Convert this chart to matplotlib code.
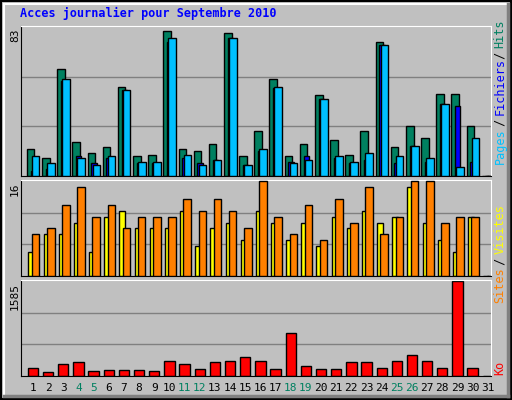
import numpy as np
import matplotlib
matplotlib.use('Agg')
import matplotlib.pyplot as plt

# Valeurs (1..31 septembre 2010)
jours = list(range(1, 32))
hits = [15, 10, 60, 19, 13, 16, 50, 11, 12, 81, 15, 14, 18, 80, 11, 25, 54, 11, 18, 45, 20, 12, 25, 75, 16, 28, 21, 46, 46, 28, 0]
fichiers = [3, 4, 53, 11, 7, 10, 48, 7, 7, 75, 10, 7, 9, 77, 6, 14, 49, 8, 11, 43, 10, 7, 9, 73, 7, 17, 8, 40, 39, 8, 0]
pages = [11, 7, 54, 10, 6, 11, 48, 8, 8, 77, 12, 6, 9, 77, 6, 15, 50, 7, 9, 43, 11, 8, 13, 73, 11, 17, 10, 40, 5, 21, 0]
visites = [7, 8, 12, 15, 10, 12, 8, 10, 10, 10, 13, 11, 13, 11, 8, 16, 10, 7, 12, 6, 13, 9, 15, 7, 10, 16, 16, 9, 10, 10, 0]
sites = [4, 7, 7, 9, 4, 10, 11, 8, 8, 8, 11, 5, 8, 9, 6, 11, 9, 6, 9, 5, 10, 8, 11, 9, 10, 15, 9, 6, 4, 10, 0]
ko = [139, 70, 192, 226, 87, 105, 105, 105, 87, 244, 192, 122, 226, 244, 314, 244, 122, 714, 174, 122, 122, 226, 226, 139, 244, 348, 244, 139, 1585, 139, 0]
weekends = [4, 5, 11, 12, 18, 19, 25, 26]

GRIS = '#C0C0C0'
W, H = 512, 400
fig = plt.figure(figsize=(W / 100, H / 100), dpi=100)
fig.patch.set_facecolor(GRIS)
mono = 'DejaVu Sans Mono'

def px_axes(top, bottom):
    return fig.add_axes([21 / W, 1 - bottom / H, 470 / W, (bottom - top) / H])

x = np.array(jours)
eb = dict(edgecolor='black', linewidth=1)

def prepare(ax, ymax):
    ax.set_facecolor(GRIS)
    ax.set_xlim(0.21, 31.21)
    ax.set_ylim(0, ymax * 1.01)
    for f in (1 / 3, 2 / 3):
        ax.axhline(ymax * f, color='#808080', lw=1, zorder=0)
    ax.set_xticks([])
    ax.set_yticks([])
    for s in ax.spines.values():
        s.set_color('black')
    ax.spines['top'].set_color('white')
    ax.spines['right'].set_color('white')

# Hits / Fichiers / Pages
ax1 = px_axes(26, 176)
prepare(ax1, 83)
ax1.bar(x - 0.15, hits, width=0.5, color='#008060', zorder=2, **eb)
ax1.bar(x + 0.02, fichiers, width=0.35, color='#0000FF', zorder=3, **eb)
ax1.bar(x + 0.18, pages, width=0.5, color='#00C0FF', zorder=4, **eb)

# Sites / Visites
ax2 = px_axes(180, 276)
prepare(ax2, 16)
ax2.bar(x - 0.1, sites, width=0.4, color='#FFFF00', zorder=2, **eb)
ax2.bar(x + 0.17, visites, width=0.5, color='#FF8000', zorder=3, **eb)

# Ko
ax3 = px_axes(280, 376)
prepare(ax3, 1585)
ax3.bar(x, ko, width=0.68, color='#FF0000', zorder=2, **eb)

for lab, ytop in (('83', 28), ('16', 182), ('1585', 283)):
    fig.text(15 / W, 1 - ytop / H, lab, rotation=90, ha='center', va='top',
             fontsize=8, family=mono)

for d in jours:
    ax3.text(d, -0.13, str(d), transform=ax3.get_xaxis_transform(), ha='center', va='center',
             fontsize=8, family=mono, color='#008060' if d in weekends else 'black')

fig.text(20 / W, 1 - 13 / H, 'Acces journalier pour Septembre 2010', color='#0000FF',
         fontsize=8.5, family=mono, fontweight='bold', va='center')

# Légendes verticales à droite, lues de bas en haut
def vlabel(ybottom, parts):
    y = 1 - ybottom / H
    for txt, col in parts:
        fig.text(500 / W, y, txt, rotation=90, ha='center', va='bottom', color=col,
                 fontsize=8.5, family=mono)
        y += len(txt) * 6.1 / H

vlabel(164, [('Pages', '#00C0FF'), (' / ', 'black'), ('Fichiers', '#0000FF'), (' / ', 'black'), ('Hits', '#008060')])
vlabel(303, [('Sites', '#FF8000'), (' / ', 'black'), ('Visites', '#FFFF00')])
vlabel(375, [('Ko', '#FF0000')])

# Cadre extérieur
fig.add_artist(plt.Rectangle((1 / W, 1 / H), 1 - 2 / W, 1 - 2 / H, transform=fig.transFigure,
                             fill=False, edgecolor='black', lw=1.5))
fig.add_artist(plt.Line2D([4 / W, 1 - 4 / W], [1 - 4 / H, 1 - 4 / H], transform=fig.transFigure, color='white', lw=1.5))
fig.add_artist(plt.Line2D([4 / W, 4 / W], [4 / H, 1 - 4 / H], transform=fig.transFigure, color='white', lw=1.5))
fig.add_artist(plt.Line2D([1 - 4 / W, 1 - 4 / W], [4 / H, 1 - 4 / H], transform=fig.transFigure, color='#808080', lw=2.5))
fig.add_artist(plt.Line2D([4 / W, 1 - 4 / W], [4 / H, 4 / H], transform=fig.transFigure, color='#808080', lw=2.5))

fig.savefig('out.png', dpi=100, facecolor=GRIS)
